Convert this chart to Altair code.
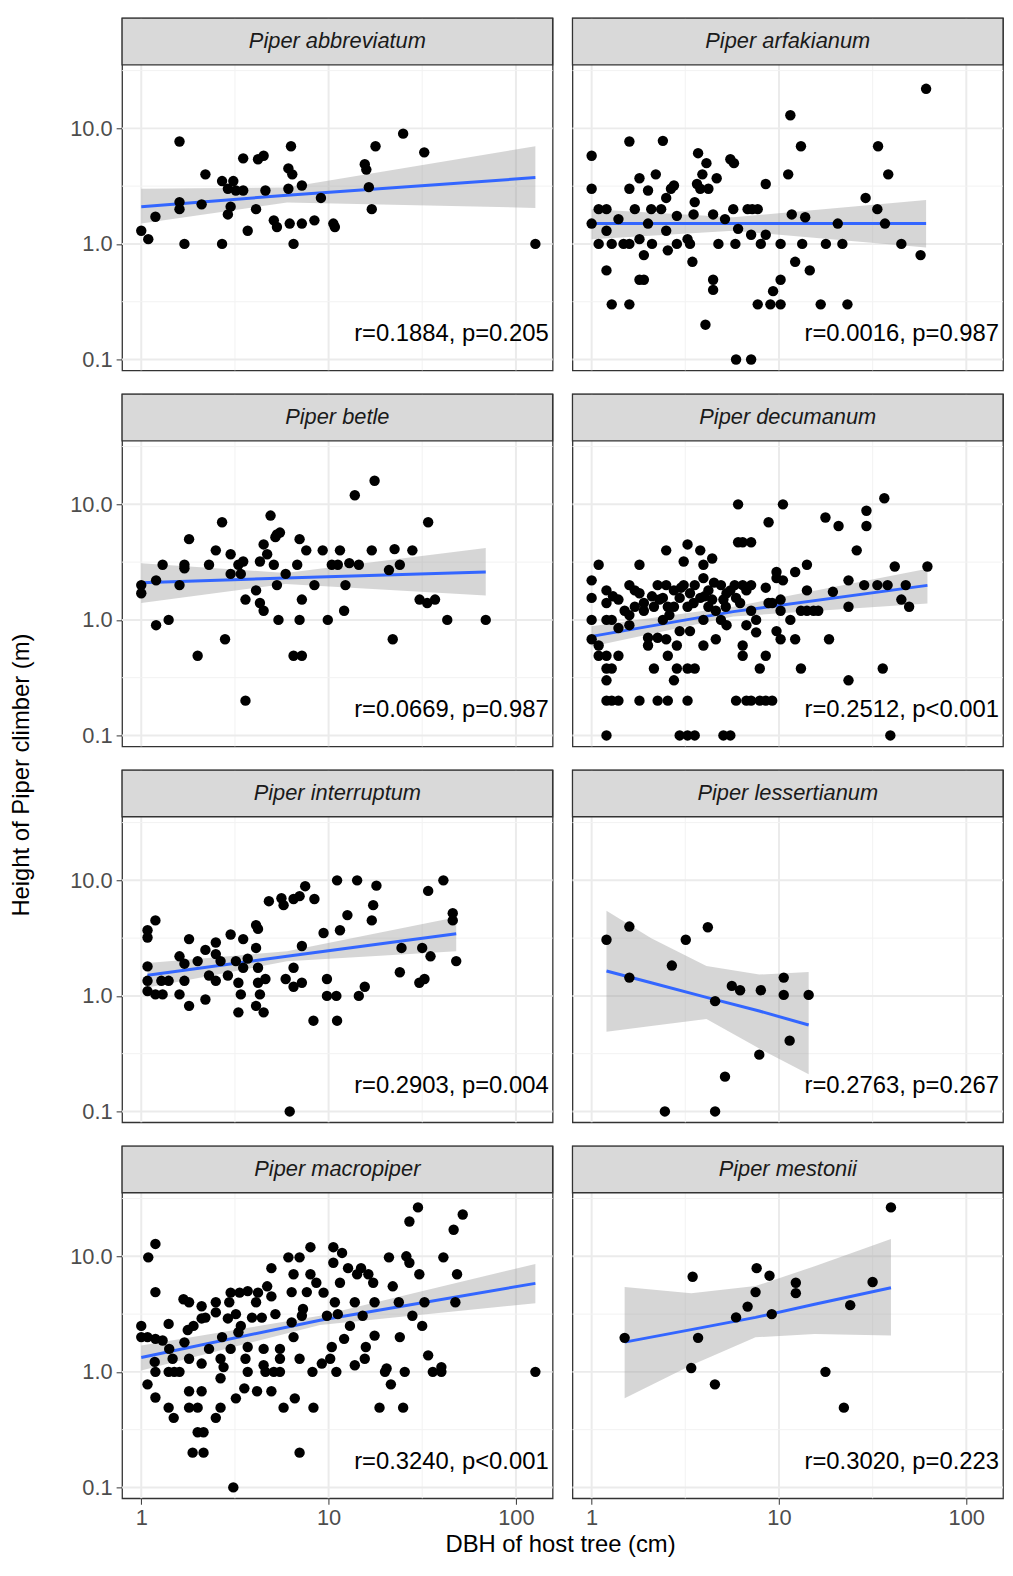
import altair as alt
import pandas as pd

# (DBH cm, height m)
abbr_pts = [(1.0,1.3),(1.09,1.1),(1.19,1.72),(1.6,7.7),(1.6,2.3),(1.6,2.0),(1.7,1.0),(2.1,2.2),(2.2,4.0),
            (2.7,1.0),(2.7,3.5),(2.9,1.8),(3.0,2.1),(3.1,3.5),(2.9,3.0),(3.2,2.9),(3.5,5.5),(3.5,2.9),
            (3.7,1.3),(4.1,2.0),(4.2,5.4),(4.5,5.8),(4.6,2.9),(5.1,1.6),(5.3,1.4),(6.1,4.5),(6.3,7.0),
            (6.4,4.0),(6.1,3.0),(6.5,1.0),(6.2,1.5),(7.2,1.5),(7.2,3.2),(8.4,1.6),(9.1,2.5),(10.6,1.5),
            (10.8,1.4),(15.6,4.9),(15.9,4.4),(16.4,3.1),(17.0,2.0),(17.8,7.0),(25,9.0),(32.4,6.2),(127,1.0)]
arfa_pts = [(1,5.8),(1,3.0),(1,1.5),(1.09,2.0),(1.2,2.0),(1.09,1.0),(1.2,1.3),(1.2,0.59),(1.28,1.0),(1.28,0.3),
            (1.39,1.64),(1.48,1.0),(1.59,1.0),(1.59,7.7),(1.59,3.0),(1.59,0.3),(1.7,2.0),(1.8,3.7),(1.8,1.1),
            (1.8,0.49),(1.9,0.49),(1.9,0.8),(2.0,2.9),(2.0,1.5),(2.08,2.0),(2.1,1.0),(2.2,4.0),(2.4,7.8),
            (2.35,2.0),(2.5,2.5),(2.5,1.3),(2.55,0.88),(2.65,3.0),(2.75,3.2),(2.85,1.0),(2.85,1.75),(3.25,1.1),
            (3.35,1.0),(3.45,0.7),(3.5,1.8),(3.55,2.3),(3.65,3.3),(3.7,6.1),(3.8,3.0),(3.9,4.0),(4.1,5.0),
            (4.2,3.0),(4.05,0.2),(4.45,0.49),(4.45,0.4),(4.45,1.8),(4.65,3.7),(4.75,1.0),(5.15,1.64),(5.5,5.4),
            (5.75,5.0),(5.7,2.0),(5.85,1.0),(5.9,0.1),(6.05,1.35),(7.1,0.1),(6.8,2.0),(7.2,2.0),(7.7,2.0),
            (7.1,1.2),(7.7,0.3),(8.0,1.0),(8.5,1.2),(8.5,3.3),(9.0,0.3),(9.3,0.39),(10.2,0.3),(10.2,0.49),
            (10.2,1.0),(11.2,4.0),(11.5,13),(11.7,1.8),(12.2,0.7),(13.1,7.0),(13.3,1.0),(13.8,1.7),(14.6,0.59),
            (16.7,0.3),(17.8,1.0),(20.6,1.5),(21.8,1.0),(23.2,0.3),(29,2.5),(33.5,2.0),(33.8,7.0),(36.8,1.5),
            (38.3,4.0),(45,1.0),(57,0.8),(61,22)]
betle_pts = [(1,2.0),(1,1.7),(1.2,2.2),(1.2,0.9),(1.3,3.0),(1.4,1.0),(1.6,2.0),(1.7,3.0),(1.7,2.8),(1.8,5.0),
             (2.0,0.49),(2.3,3.0),(2.5,4.0),(2.7,7.0),(2.8,0.68),(3.0,3.7),(3.0,2.5),(3.3,3.0),(3.4,2.5),
             (3.5,3.2),(3.6,1.5),(3.6,0.2),(4.1,1.8),(4.3,1.4),(4.3,3.2),(4.5,4.5),(4.5,1.2),(4.7,3.7),
             (4.9,8.0),(5.1,3.0),(5.2,5.2),(5.3,5.5),(5.5,5.7),(5.3,2.0),(5.4,1.0),(5.9,2.5),(6.5,0.49),
             (7.2,0.49),(6.8,3.0),(7.0,5.0),(7.0,1.0),(7.2,1.5),(7.6,4.0),(8.4,2.0),(9.3,4.0),(9.9,1.0),
             (10.4,3.0),(11.2,3.0),(11.5,4.0),(12.1,1.2),(12.3,2.0),(12.9,3.1),(13.8,12),(14.5,3.0),(17,4.0),
             (17.6,16),(21,2.7),(22,0.68),(22.5,4.1),(24,3.0),(28,4.0),(30.6,1.5),(33.6,1.4),(34,7.0),
             (37,1.5),(43,1.0),(69,1.0)]
decu_pts = [(1,2.2),(1,1.55),(1,1.0),(1,0.68),(1.09,3.0),(1.09,0.6),(1.09,0.49),(1.2,1.8),(1.2,1.4),(1.2,1.0),
            (1.2,0.49),(1.2,0.38),(1.2,0.3),(1.2,0.2),(1.2,0.1),(1.28,1.0),(1.28,0.38),(1.28,0.2),(1.39,1.5),
            (1.39,0.49),(1.39,0.2),(1.39,0.85),(1.59,2.0),(1.59,1.1),(1.59,0.9),(1.7,1.8),(1.7,1.3),(1.8,3.0),
            (1.8,1.7),(1.8,0.2),(1.9,1.4),(1.9,1.2),(2.0,0.7),(2.0,0.6),(2.15,1.3),(2.15,0.38),(2.25,0.2),
            (2.25,2.0),(2.25,0.7),(2.4,1.55),(2.4,1.0),(2.5,4.0),(2.5,2.0),(2.5,0.68),(2.55,0.2),(2.55,0.49),
            (2.55,1.3),(2.75,1.8),(2.75,1.3),(2.75,0.3),(2.85,0.6),(2.85,0.38),(2.95,1.55),(2.95,0.1),(2.95,0.8),
            (3.1,3.2),(3.1,2.0),(3.25,4.5),(3.25,0.2),(3.25,0.1),(3.25,0.38),(3.25,1.3),(3.35,1.7),(3.35,0.8),
            (3.55,2.0),(3.55,0.1),(3.55,0.38),(3.8,4.0),(3.8,1.55),(3.95,3.0),(3.95,2.3),(3.95,0.6),(3.95,1.0),
            (4.2,1.8),(4.2,1.3),(4.4,3.4),(4.4,1.5),(4.6,0.68),(4.6,1.2),(4.9,2.0),(4.9,1.0),(5.05,0.1),
            (5.05,1.5),(5.25,0.9),(5.25,1.7),(5.5,0.1),(5.5,1.8),(5.9,0.2),(5.9,1.55),(6.05,4.7),(6.05,10),
            (6.4,4.7),(6.4,0.6),(6.4,0.49),(6.4,2.0),(6.7,0.9),(6.7,0.2),(6.7,1.8),(7.1,4.7),(7.1,1.2),
            (7.1,2.0),(7.1,0.2),(7.55,0.78),(7.55,1.0),(7.9,0.38),(7.9,0.2),(8.5,0.49),(8.5,1.9),(8.5,0.2),
            (8.8,7.0),(8.8,1.4),(9.2,0.2),(9.2,1.4),(9.7,2.6),(9.7,0.8),(9.7,2.3),(10.2,0.68),(10.2,1.5),
            (10.2,1.2),(10.5,10),(10.5,2.2),(11.5,1.0),(12.2,0.68),(12.2,2.6),(13.1,0.38),(13.1,1.2),(14.1,3.0),
            (14.1,1.8),(14.1,1.2),(15.3,1.2),(16.2,1.2),(17.7,7.7),(18.5,0.68),(19.4,1.75),(20.8,6.5),
            (23.5,0.3),(23.5,2.2),(23.5,1.3),(26,4.0),(28.5,2.0),(29.3,8.8),(29.3,6.5),(33.5,2.0),(35.8,0.38),
            (36.5,11.3),(38,2.0),(39.3,0.1),(41.5,2.9),(45,1.5),(47.5,2.0),(49.5,1.3),(62,2.9),
            (1.5,1.2),(2.1,1.6),(2.6,1.1),(3.0,1.9),(3.5,1.4),(4.0,1.6),(4.5,2.1),(5.2,1.3),(5.8,2.0),
            (6.2,1.4),(1.3,1.6),(2.3,1.5)]
inter_pts = [(1.08,3.7),(1.08,3.2),(1.19,4.5),(1.08,1.8),(1.08,1.35),(1.08,1.1),(1.19,1.03),(1.3,1.03),
             (1.28,1.35),(1.4,1.35),(1.6,1.03),(1.6,2.2),(1.7,1.9),(1.7,1.35),(1.8,3.1),(1.8,0.82),(2.0,2.0),
             (2.2,0.93),(2.2,2.5),(2.3,1.5),(2.5,2.9),(2.5,2.3),(2.5,1.35),(2.65,2.0),(2.9,1.5),(3.0,3.4),
             (3.2,2.0),(3.3,0.72),(3.3,1.3),(3.4,1.03),(3.5,3.1),(3.5,1.75),(3.7,2.1),(4.1,2.6),(4.1,4.1),
             (4.2,1.3),(4.2,3.8),(4.2,1.75),(4.3,1.03),(4.1,0.82),(4.5,0.72),(4.6,1.4),(4.8,6.6),(5.6,7.0),
             (5.75,6.1),(6.5,6.9),(7.0,7.3),(7.5,8.9),(6.5,1.75),(5.9,1.4),(6.5,1.2),(7.2,1.3),(7.2,2.7),
             (8.4,6.9),(8.3,0.61),(9.4,3.5),(9.8,1.4),(9.8,1.0),(11,1.0),(11.1,10),(11.1,0.61),(11.5,3.7),
             (12.6,5.0),(14.2,10),(14.5,1.0),(15.6,1.2),(17,4.5),(17.3,6.1),(18,9),(24,1.6),(24.5,2.6),
             (30.5,1.3),(32.5,1.4),(31.6,2.6),(35,2.2),(34,8.1),(41,10),(46,5.2),(46,4.5),(48,2.0),(6.2,0.1)]
less_pts = [(1.2,3.06),(1.59,3.98),(1.59,1.44),(2.68,1.83),(2.46,0.1),(3.18,3.06),(4.17,3.93),(4.56,0.9),
            (5.15,0.2),(4.56,0.1),(5.6,1.22),(6.2,1.12),(8.0,1.12),(7.85,0.31),(10.6,1.44),(10.6,1.02),
            (11.4,0.41),(14.4,1.02)]
macro_pts = [(1.0,2.5),(1.0,2.0),(1.09,9.8),(1.19,12.8),(1.19,4.9),(1.08,2.0),(1.19,1.93),(1.3,1.87),(1.4,2.6),
             (1.41,1.58),(1.18,1.22),(1.19,1.0),(1.08,0.78),(1.19,0.6),(1.4,0.49),(1.49,0.4),(1.4,1.0),(1.5,1.0),
             (1.6,1.0),(1.47,1.3),(1.68,4.25),(1.8,4.0),(1.7,1.8),(1.8,1.3),(1.8,0.68),(1.8,0.49),(2.0,0.49),
             (2.1,0.68),(2.0,0.3),(2.15,0.3),(1.88,0.2),(2.15,0.2),(1.77,2.3),(1.9,2.5),(2.1,3.7),(2.1,2.9),
             (2.1,1.18),(2.2,2.95),(2.3,1.58),(2.5,4.0),(2.5,3.27),(2.5,0.4),(2.65,0.49),(2.65,0.88),(2.65,1.3),
             (2.7,2.0),(2.75,1.1),(2.9,2.9),(3.0,4.85),(3.0,1.58),(2.95,4.0),(3.1,0.1),(3.2,0.59),(3.2,3.16),
             (3.3,2.2),(3.35,4.85),(3.4,2.5),(3.55,0.72),(3.6,1.3),(3.7,5.0),(3.7,1.64),(3.7,1.0),(3.9,2.95),
             (4.1,4.0),(4.15,0.68),(4.2,4.85),(4.4,2.95),(4.5,1.14),(4.5,1.58),(4.6,1.0),(4.7,5.5),(4.95,7.9),
             (4.95,4.5),(4.95,0.68),(5.1,1.0),(5.2,3.16),(5.5,1.58),(5.5,1.0),(5.5,1.3),(5.75,0.49),(6.1,9.8),
             (6.35,4.9),(6.35,2.68),(6.5,7.0),(6.5,2.0),(6.6,0.59),(7.0,9.8),(7.0,1.3),(7.0,0.2),(7.2,3.06),
             (7.3,3.5),(7.65,4.9),(8.0,12),(8.0,7.0),(8.2,1.0),(8.3,0.49),(8.6,5.9),(9.2,1.18),(9.4,4.85),
             (9.8,3.06),(10.2,1.3),(10.6,12),(10.6,8.8),(10.4,1.64),(11,1.0),(10.8,4.0),(11.2,3.16),(11.5,5.9),
             (11.8,10.7),(12.1,1.93),(12.7,7.9),(13,2.5),(13.8,4.0),(13.8,1.14),(14.2,7.0),(14.9,7.9),(15.2,3.06),
             (15.6,1.3),(15.8,1.64),(16.3,7.0),(17.3,5.9),(17.6,4.0),(17.6,2.06),(18.7,0.49),(20,1.0),(20.4,1.07),
             (21,9.8),(21.5,0.78),(22,5.5),(23.7,4.0),(24,2.0),(25,0.49),(25.5,1.0),(26,10),(27,8.8),(27,20),
             (28,3.06),(30,26.5),(30.5,7.0),(31.6,2.5),(32.5,4.0),(34,1.39),(36,1.0),(40,1.1),(40,1.0),(41,9.8),
             (46.5,17),(47.5,4.0),(48.5,7.0),(52,23),(127,1.0)]
mest_pts = [(1.5,1.97),(3.46,6.65),(3.4,1.08),(3.7,1.97),(4.55,0.78),(5.9,2.96),(6.8,3.67),(7.5,4.9),(7.6,7.9),
            (8.9,6.8),(9.15,3.16),(12.3,5.9),(12.3,4.8),(17.7,1.0),(22.2,0.49),(24,3.78),(31.6,6.0),(39.6,26.5)]

# fitted line and confidence band: x, lower, fit, upper
abbr_fit = ([1.0, 6.0, 127], [1.5, 2.28, 2.05], [2.1, 2.64, 3.75], [3.0, 3.08, 7.0])
arfa_fit = ([1.0, 5.7, 61], [1.1, 1.3, 0.93], [1.5, 1.5, 1.5], [2.0, 1.7, 2.4])
betle_fit = ([1.0, 5.9, 69], [1.4, 2.05, 1.63], [2.1, 2.3, 2.6], [3.1, 2.55, 4.2])
decu_fit = ([1.0, 5.7, 62], [0.59, 1.07, 1.39], [0.72, 1.18, 1.99], [0.88, 1.3, 2.77])
inter_fit = ([1.08, 6.0, 48], [1.18, 1.99, 2.43], [1.51, 2.2, 3.45], [1.93, 2.43, 4.8])
less_fit = ([1.2, 2.08, 4.1, 7.85, 14.4], [0.49, 0.55, 0.63, 0.35, 0.21], [1.64, 1.3, 0.97, 0.74, 0.56],
            [5.46, 3.16, 1.81, 1.53, 1.61])
macro_fit = ([1.0, 9.0, 127], [1.03, 2.55, 3.93], [1.33, 2.8, 5.83], [1.69, 3.06, 8.6])
mest_fit = ([1.5, 3.4, 7.5, 15.5, 39.6], [0.59, 1.14, 1.99, 2.13, 2.06], [1.81, 2.32, 2.96, 3.85, 5.35],
            [5.42, 4.78, 5.53, 8.2, 14.1])

panels = [
    ("Piper abbreviatum", abbr_pts, abbr_fit, "r=0.1884, p=0.205"),
    ("Piper arfakianum", arfa_pts, arfa_fit, "r=0.0016, p=0.987"),
    ("Piper betle", betle_pts, betle_fit, "r=0.0669, p=0.987"),
    ("Piper decumanum", decu_pts, decu_fit, "r=0.2512, p<0.001"),
    ("Piper interruptum", inter_pts, inter_fit, "r=0.2903, p=0.004"),
    ("Piper lessertianum", less_pts, less_fit, "r=0.2763, p=0.267"),
    ("Piper macropiper", macro_pts, macro_fit, "r=0.3240, p<0.001"),
    ("Piper mestonii", mest_pts, mest_fit, "r=0.3020, p=0.223"),
]

grid_x_major = [1, 10, 100]
grid_x_minor = [3.162, 31.62]
grid_y_major = [0.1, 1, 10]
grid_y_minor = [0.3162, 3.162, 31.62]

W, H, STRIP = 434, 308, 47
FONT = "Liberation Sans"
xs = alt.Scale(type="log", domain=[0.79, 157], nice=False)
# strip sits inside the view: the data area is the lower H pixels
ys = alt.Scale(type="log", domain=[0.0805, 35.5], nice=False, range=[STRIP + H, STRIP])


def panel(name, pts, fit, label, left, bottom):
    pts_df = pd.DataFrame(pts, columns=["dbh", "h"])
    fit_df = pd.DataFrame({"dbh": fit[0], "lo": fit[1], "mid": fit[2], "hi": fit[3]})
    lab_df = pd.DataFrame({"name": [name], "label": [label]})

    if left:
        yax = alt.Axis(values=grid_y_major, format=".1f", grid=False, domain=False, title=None,
                       labelFontSize=22, labelColor="#4D4D4D", labelFont=FONT, tickColor="#333333",
                       tickSize=6, labelPadding=4, minExtent=70, maxExtent=70)
    else:
        yax = None
    if bottom:
        xax = alt.Axis(values=grid_x_major, format="d", grid=False, domain=False, title=None,
                       labelFontSize=22, labelColor="#4D4D4D", labelFont=FONT, tickColor="#333333",
                       tickSize=6, labelPadding=3)
    else:
        xax = None

    gx1 = alt.Chart(pd.DataFrame({"v": grid_x_major})).mark_rule(color="#EBEBEB", strokeWidth=2).encode(
        x=alt.X("v:Q", scale=xs, axis=xax))
    gx2 = alt.Chart(pd.DataFrame({"v": grid_x_minor})).mark_rule(color="#F2F2F2", strokeWidth=1).encode(
        x=alt.X("v:Q", scale=xs, axis=xax))
    gy1 = alt.Chart(pd.DataFrame({"v": grid_y_major})).mark_rule(color="#EBEBEB", strokeWidth=2).encode(
        y=alt.Y("v:Q", scale=ys, axis=yax))
    gy2 = alt.Chart(pd.DataFrame({"v": grid_y_minor})).mark_rule(color="#F2F2F2", strokeWidth=1).encode(
        y=alt.Y("v:Q", scale=ys, axis=yax))

    band = alt.Chart(fit_df).mark_area(color="#999999", opacity=0.4).encode(
        x=alt.X("dbh:Q", scale=xs, axis=xax), y=alt.Y("lo:Q", scale=ys, axis=yax), y2="hi:Q")
    line = alt.Chart(fit_df).mark_line(color="#3366FF", strokeWidth=3).encode(
        x=alt.X("dbh:Q", scale=xs, axis=xax), y=alt.Y("mid:Q", scale=ys, axis=yax))
    dots = alt.Chart(pts_df).mark_circle(color="black", opacity=1, size=110).encode(
        x=alt.X("dbh:Q", scale=xs, axis=xax), y=alt.Y("h:Q", scale=ys, axis=yax))
    txt = alt.Chart(lab_df).mark_text(align="right", baseline="middle", fontSize=24, font=FONT,
                                      color="black").encode(
        x=alt.value(W - 4), y=alt.value(STRIP + 271), text="label:N")
    strip = alt.Chart(lab_df).mark_rect(fill="#D9D9D9", stroke="#333333", strokeWidth=1.3).encode(
        x=alt.value(0), x2=alt.value(W), y=alt.value(0), y2=alt.value(STRIP))
    strip_txt = alt.Chart(lab_df).mark_text(fontSize=22, fontStyle="italic", font=FONT,
                                            color="#1A1A1A", baseline="middle").encode(
        x=alt.value(W / 2), y=alt.value(STRIP / 2), text="name:N")

    return alt.layer(gx1, gx2, gy1, gy2, band, line, dots, txt, strip, strip_txt).properties(
        width=W, height=H + STRIP)


rows = []
for i in range(4):
    l, r = panels[2 * i], panels[2 * i + 1]
    rows.append(alt.hconcat(panel(*l, True, i == 3), panel(*r, False, i == 3), spacing=16))
grid = alt.vconcat(*rows, spacing=20)

no_frame = alt.ViewBackground(strokeWidth=0, stroke=None)

title_df = pd.DataFrame({"t": ["DBH of host tree (cm)"]})
xtitle = alt.Chart(title_df).mark_text(fontSize=24, font=FONT, color="black").encode(
    x=alt.value(442), y=alt.value(14), text="t:N").properties(width=885, height=30, view=no_frame)

ytitle_df = pd.DataFrame({"t": ["Height of Piper climber (m)"]})
ytitle = alt.Chart(ytitle_df).mark_text(fontSize=24, font=FONT, color="black", angle=270).encode(
    x=alt.value(14), y=alt.value(763), text="t:N").properties(width=28, height=1480, view=no_frame)

chart = alt.hconcat(ytitle, alt.vconcat(grid, xtitle, spacing=2), spacing=16).properties(
    padding={"left": 0, "top": 2, "right": 0, "bottom": 0}
).configure_view(stroke="#333333", strokeWidth=1.3)

chart.save("out.html", embed_options={"renderer": "svg", "actions": False})
